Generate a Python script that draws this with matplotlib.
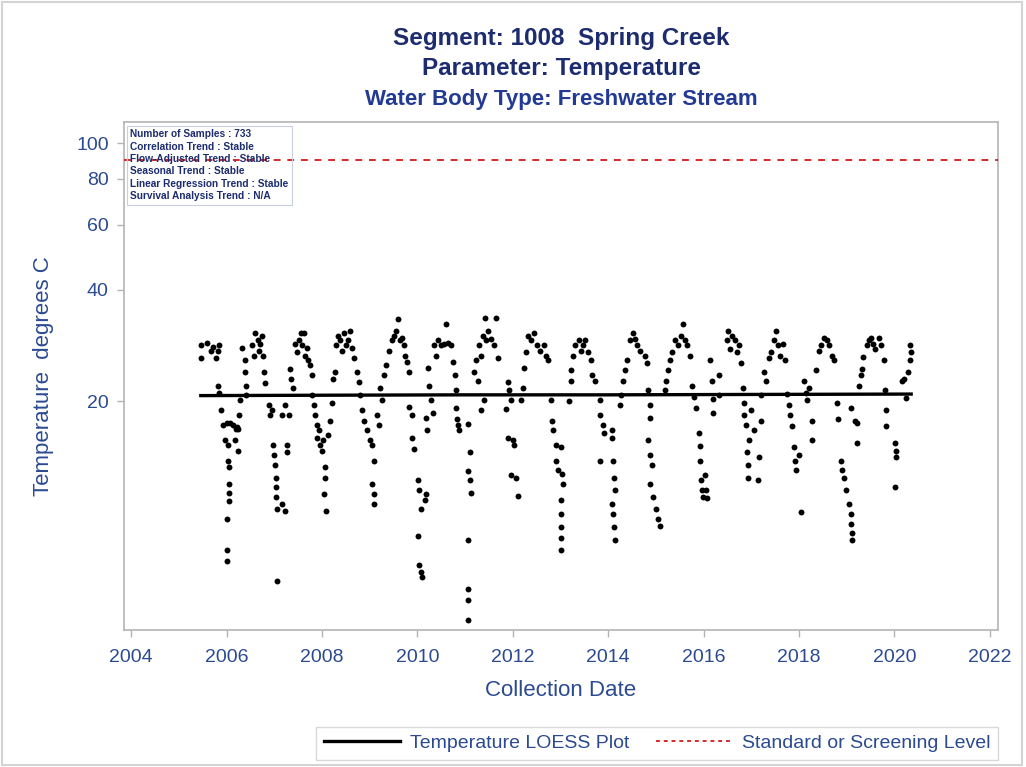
import numpy as np
import matplotlib.pyplot as plt
from matplotlib.lines import Line2D
from matplotlib.patches import Rectangle
from matplotlib.ticker import NullLocator, FixedFormatter

plt.rcParams["font.family"] = ["Liberation Sans", "DejaVu Sans"]

# ---------------------------------------------------------------
# sampled temperatures (decimal year, degrees C), read off the chart
# ---------------------------------------------------------------
dates_2005 = [2005.46, 2005.46, 2005.60, 2005.67, 2005.71, 2005.77, 2005.81, 2005.85,
              2005.83, 2005.85, 2005.88, 2005.92, 2005.96]
temps_2005 = [28.3, 26.1, 28.7, 27.4, 28.0, 26.1, 27.4, 28.3,
              22.0, 21.0, 18.9, 17.2, 15.7]

dates_2006 = [2006.00, 2006.02, 2006.04, 2006.06, 2006.06, 2006.06, 2006.06, 2006.00, 2006.00,
              2006.00, 2006.08, 2006.13, 2006.17, 2006.19, 2006.21, 2006.23, 2006.25, 2006.27,
              2006.29, 2006.33, 2006.38, 2006.38, 2006.40, 2006.40, 2006.54, 2006.58, 2006.60,
              2006.65, 2006.67, 2006.71, 2006.75, 2006.77, 2006.79, 2006.81, 2006.88, 2006.92,
              2006.96, 2006.98]
temps_2006 = [17.5, 15.2, 13.8, 13.3, 11.9, 11.3, 10.7, 9.6, 7.9,
              7.4, 17.4, 17.2, 15.7, 16.8, 17.0, 14.7, 16.8, 18.3,
              20.1, 27.9, 25.8, 24.0, 22.0, 20.8, 28.3, 26.5, 30.5,
              29.2, 27.4, 28.6, 30.1, 26.5, 24.0, 22.4, 19.5, 18.3,
              18.9, 15.2]

dates_2007 = [2007.00, 2007.02, 2007.04, 2007.04, 2007.04, 2007.06, 2007.06, 2007.17, 2007.23,
              2007.27, 2007.27, 2007.23, 2007.31, 2007.17, 2007.33, 2007.35, 2007.40, 2007.44,
              2007.48, 2007.52, 2007.56, 2007.58, 2007.63, 2007.65, 2007.69, 2007.71, 2007.75,
              2007.79, 2007.79, 2007.83, 2007.85, 2007.90, 2007.90, 2007.94, 2007.96]
temps_2007 = [14.3, 13.4, 12.4, 11.7, 11.0, 10.2, 6.5, 10.5, 10.1,
              15.2, 14.6, 19.5, 18.3, 18.3, 24.4, 23.0, 21.7, 28.6,
              27.1, 29.2, 30.5, 28.3, 30.5, 26.5, 27.9, 25.8, 25.0,
              23.5, 20.8, 19.5, 18.3, 17.2, 15.9, 16.7, 15.2]

dates_2008 = [2008.00, 2008.02, 2008.06, 2008.06, 2008.04, 2008.08, 2008.13, 2008.17, 2008.21,
              2008.23, 2008.27, 2008.29, 2008.33, 2008.38, 2008.42, 2008.46, 2008.50, 2008.54,
              2008.58, 2008.63, 2008.67, 2008.73, 2008.77, 2008.79, 2008.83, 2008.88, 2008.94]
temps_2008 = [14.7, 15.7, 13.3, 12.4, 11.2, 10.1, 16.2, 17.7, 19.8,
              23.0, 24.0, 28.3, 30.1, 29.2, 27.4, 30.5, 28.3, 29.2,
              31.0, 27.9, 26.1, 24.0, 22.5, 20.8, 18.9, 17.7, 16.7]

dates_2009 = [2009.00, 2009.04, 2009.08, 2009.04, 2009.08, 2009.10, 2009.15, 2009.19, 2009.21,
              2009.25, 2009.31, 2009.35, 2009.40, 2009.46, 2009.50, 2009.56, 2009.60, 2009.63,
              2009.67, 2009.71, 2009.75, 2009.79, 2009.83, 2009.83, 2009.88, 2009.88, 2009.92]
temps_2009 = [15.7, 15.2, 13.8, 11.9, 11.2, 10.5, 18.3, 17.2, 21.7,
              20.1, 23.5, 25.0, 27.4, 29.2, 30.1, 31.0, 33.4, 29.2,
              29.7, 28.3, 26.5, 25.5, 24.0, 19.3, 18.3, 15.9, 14.8]

dates_2010 = [2010.02, 2010.04, 2010.08, 2010.02, 2010.04, 2010.08, 2010.10, 2010.15, 2010.19,
              2010.19, 2010.21, 2010.23, 2010.25, 2010.29, 2010.33, 2010.35, 2010.40, 2010.44,
              2010.50, 2010.56, 2010.60, 2010.65, 2010.71, 2010.75, 2010.79, 2010.81, 2010.81,
              2010.83, 2010.85, 2010.88]
temps_2010 = [12.2, 11.5, 10.2, 8.6, 7.2, 6.9, 6.7, 10.8, 11.2,
              18.0, 16.7, 24.6, 22.0, 20.1, 18.6, 28.3, 26.5, 29.2,
              28.3, 28.6, 32.4, 28.8, 28.3, 25.5, 23.5, 21.4, 19.2,
              17.9, 17.2, 16.7]

dates_2011 = [2011.06, 2011.10, 2011.06, 2011.10, 2011.13, 2011.06, 2011.06, 2011.06, 2011.06,
              2011.19, 2011.23, 2011.27, 2011.29, 2011.33, 2011.38, 2011.42, 2011.44, 2011.48,
              2011.54, 2011.60, 2011.65, 2011.69, 2011.33, 2011.40, 2011.85, 2011.90, 2011.92,
              2011.96, 2011.90]
temps_2011 = [17.3, 14.6, 12.9, 12.2, 11.3, 8.4, 6.2, 5.8, 5.1,
              24.0, 25.8, 22.7, 28.3, 26.5, 30.1, 33.6, 29.2, 31.0,
              29.5, 28.3, 33.6, 26.1, 18.9, 20.1, 19.0, 22.5, 21.4,
              20.1, 15.9]

dates_2012 = [2012.00, 2012.02, 2011.96, 2012.06, 2012.10, 2012.17, 2012.21, 2012.23, 2012.27,
              2012.31, 2012.38, 2012.44, 2012.50, 2012.58, 2012.65, 2012.69, 2012.73, 2012.79,
              2012.83, 2012.85, 2012.90, 2012.90, 2012.94]
temps_2012 = [15.7, 15.2, 12.6, 12.4, 11.1, 20.1, 21.7, 24.6, 27.1,
              30.1, 29.2, 30.5, 28.3, 27.4, 28.3, 26.5, 25.8, 20.1,
              17.7, 16.7, 15.2, 13.8, 13.0]

dates_2013 = [2013.00, 2013.04, 2013.06, 2013.00, 2013.00, 2013.00, 2013.00, 2013.00, 2013.17,
              2013.21, 2013.23, 2013.27, 2013.31, 2013.38, 2013.42, 2013.48, 2013.52, 2013.58,
              2013.63, 2013.67, 2013.73, 2013.83, 2013.83, 2013.88, 2013.92, 2013.83]
temps_2013 = [15.0, 12.7, 11.9, 10.8, 9.9, 9.1, 8.5, 7.9, 20.0,
              22.7, 24.3, 26.5, 28.3, 29.2, 27.4, 28.3, 29.2, 27.1,
              25.8, 23.5, 22.7, 20.1, 18.3, 17.2, 16.4, 13.8]

dates_2014 = [2014.08, 2014.08, 2014.10, 2014.13, 2014.15, 2014.08, 2014.10, 2014.13, 2014.15,
              2014.25, 2014.27, 2014.31, 2014.35, 2014.40, 2014.46, 2014.52, 2014.56, 2014.60,
              2014.67, 2014.77, 2014.81, 2014.83, 2014.88, 2014.88, 2014.83, 2014.88, 2014.92,
              2014.88, 2014.94]
temps_2014 = [16.7, 15.9, 13.8, 12.4, 11.5, 10.5, 9.9, 9.1, 8.4,
              19.5, 20.8, 22.7, 24.3, 25.8, 29.2, 30.5, 29.5, 28.3,
              27.4, 26.5, 25.3, 21.4, 19.5, 18.0, 15.7, 14.3, 13.4,
              11.9, 11.0]

dates_2015 = [2015.00, 2015.04, 2015.08, 2015.19, 2015.21, 2015.25, 2015.29, 2015.33, 2015.40,
              2015.46, 2015.52, 2015.56, 2015.60, 2015.65, 2015.71, 2015.75, 2015.79, 2015.83,
              2015.90, 2015.92, 2015.92, 2015.94, 2015.96, 2015.98]
temps_2015 = [10.2, 9.6, 9.2, 21.4, 22.7, 24.3, 25.8, 27.1, 29.2,
              28.3, 30.1, 32.4, 29.2, 28.3, 26.5, 22.0, 20.5, 19.2,
              16.4, 15.1, 13.8, 12.2, 11.5, 11.0]

dates_2016 = [2016.04, 2016.02, 2016.08, 2016.13, 2016.17, 2016.19, 2016.19, 2016.33, 2016.33,
              2016.48, 2016.52, 2016.56, 2016.60, 2016.65, 2016.69, 2016.75, 2016.79, 2016.83,
              2016.85, 2016.85, 2016.88, 2016.90, 2016.92, 2016.92, 2016.96, 2017.00]
temps_2016 = [11.5, 12.6, 10.9, 25.8, 22.7, 20.3, 18.6, 23.5, 20.8,
              29.2, 31.0, 27.7, 30.1, 29.2, 27.1, 28.3, 25.3, 21.7,
              19.8, 18.3, 17.2, 14.6, 13.4, 12.4, 15.7, 18.9]

dates_2017 = [2017.06, 2017.13, 2017.17, 2017.21, 2017.21, 2017.27, 2017.31, 2017.38, 2017.42,
              2017.48, 2017.52, 2017.56, 2017.60, 2017.67, 2017.71, 2017.75, 2017.79, 2017.81,
              2017.85, 2017.90, 2017.92, 2017.94]
temps_2017 = [16.7, 12.2, 14.1, 17.7, 20.8, 24.0, 22.7, 26.1, 27.1,
              29.2, 31.0, 28.3, 26.5, 28.6, 25.8, 20.9, 19.5, 18.3,
              17.1, 15.0, 13.8, 13.0]

dates_2018 = [2018.00, 2018.04, 2018.10, 2018.15, 2018.17, 2018.21, 2018.27, 2018.27, 2018.35,
              2018.42, 2018.46, 2018.52, 2018.58, 2018.63, 2018.69, 2018.73, 2018.79, 2018.81,
              2018.88, 2018.90, 2018.94, 2018.98]
temps_2018 = [14.3, 10.0, 22.7, 21.1, 20.1, 21.7, 17.7, 15.7, 24.3,
              27.4, 28.3, 29.6, 29.2, 28.3, 26.5, 25.8, 19.8, 17.9,
              13.8, 13.0, 12.4, 11.5]

dates_2019 = [2019.04, 2019.08, 2019.08, 2019.10, 2019.10, 2019.08, 2019.17, 2019.21, 2019.21,
              2019.25, 2019.29, 2019.31, 2019.35, 2019.42, 2019.46, 2019.50, 2019.56, 2019.60,
              2019.67, 2019.71, 2019.77, 2019.81, 2019.83, 2019.83]
temps_2019 = [10.5, 9.9, 9.3, 8.8, 8.4, 19.2, 17.7, 17.4, 15.4,
              22.0, 23.5, 24.4, 26.3, 28.3, 29.2, 29.7, 28.6, 27.7,
              29.7, 28.3, 25.8, 21.4, 18.9, 17.1]

dates_2020 = [2020.02, 2020.04, 2020.04, 2020.02, 2020.15, 2020.19, 2020.25, 2020.29, 2020.33,
              2020.35, 2020.33]
temps_2020 = [15.4, 14.7, 14.1, 11.7, 22.7, 23.0, 20.4, 24.0, 25.8,
              27.1, 28.3]

# LOESS smooth and the screening level
loess_dates = [2005.46, 2008.0, 2011.0, 2014.0, 2017.0, 2020.35]
loess_temps = [20.7, 20.75, 20.8, 20.8, 20.85, 20.9]
standard_level = 90.2

stats_lines = [
    "Number of Samples : 733",
    "Correlation Trend : Stable",
    "Flow-Adjusted Trend : Stable",
    "Seasonal Trend : Stable",
    "Linear Regression Trend : Stable",
    "Survival Analysis Trend : N/A",
]

x_ticks = list(range(2004, 2023, 2))
y_ticks = [20, 40, 60, 80, 100]

dates = np.concatenate([dates_2005, dates_2006, dates_2007, dates_2008, dates_2009,
                        dates_2010, dates_2011, dates_2012, dates_2013, dates_2014,
                        dates_2015, dates_2016, dates_2017, dates_2018, dates_2019,
                        dates_2020])
temps = np.concatenate([temps_2005, temps_2006, temps_2007, temps_2008, temps_2009,
                        temps_2010, temps_2011, temps_2012, temps_2013, temps_2014,
                        temps_2015, temps_2016, temps_2017, temps_2018, temps_2019,
                        temps_2020])

NAVY = "#1d2c6e"
BLUE = "#2b4a90"
GRID = "#b4b4b4"

W, H = 1026, 767
fig = plt.figure(figsize=(W / 100, H / 100), dpi=100, facecolor="white")

# plot area in pixels: x 124..998, y 122..630
ax = fig.add_axes([124 / W, 1 - 630 / H, (998 - 124) / W, (630 - 122) / H])

ax.scatter(dates, temps, s=18, c="black", linewidths=0, zorder=3)
ax.plot(loess_dates, loess_temps, color="black", lw=2.4, zorder=4)
ax.axhline(standard_level, color="#d42a2a", lw=1.4, ls=(0, (3.5, 3.5)), zorder=5)

ax.set_yscale("log")
ax.set_ylim(4.8, 114)
ax.set_xlim(2003.85, 2022.17)

ax.set_yticks(y_ticks)
ax.yaxis.set_minor_locator(NullLocator())
ax.yaxis.set_major_formatter(FixedFormatter([str(v) for v in y_ticks]))
ax.set_xticks(x_ticks)

for spine in ax.spines.values():
    spine.set_color(GRID)
    spine.set_linewidth(1.2)
ax.tick_params(direction="out", length=5, width=1, color=GRID,
               labelcolor=BLUE, labelsize=14)
ax.tick_params(axis="x", pad=9)
ax.tick_params(axis="y", pad=6)

ax.set_xlabel("Collection Date", fontsize=16, color=BLUE, labelpad=10)
ax.set_ylabel("Temperature  degrees C", fontsize=16, color=BLUE, labelpad=16)

ax.text(0.007, 0.986, "\n".join(stats_lines), transform=ax.transAxes,
        fontsize=7.3, fontweight="bold", color=NAVY, va="top", ha="left",
        linespacing=1.3, zorder=6,
        bbox=dict(facecolor="none", edgecolor="#c8cde0", lw=0.8,
                  boxstyle="square,pad=0.35"))

# titles
cx = (124 + 998) / 2 / W
fig.text(cx, 1 - 38 / H, "Segment: 1008  Spring Creek", ha="center", va="center",
         fontsize=17.5, fontweight="bold", color=NAVY)
fig.text(cx, 1 - 69 / H, "Parameter: Temperature", ha="center", va="center",
         fontsize=17.5, fontweight="bold", color=NAVY)
fig.text(cx, 1 - 100 / H, "Water Body Type: Freshwater Stream", ha="center", va="center",
         fontsize=16, fontweight="bold", color="#233a94")

handles = [
    Line2D([], [], color="black", lw=2.4),
    Line2D([], [], color="#d42a2a", lw=1.4, ls=(0, (2, 2))),
]
leg = fig.legend(handles, ["Temperature LOESS Plot", "Standard or Screening Level"],
                 loc="lower right", bbox_to_anchor=(998 / W, 7 / H), ncol=2,
                 fontsize=14, frameon=True, fancybox=False, handlelength=3.9,
                 handletextpad=0.5, columnspacing=1.4, borderpad=0.4,
                 borderaxespad=0.0)
leg.get_frame().set_edgecolor("#d0d0d0")
leg.get_frame().set_linewidth(1.0)
for t in leg.get_texts():
    t.set_color(BLUE)

fig.patches.append(Rectangle((0.002, 0.002), 0.994, 0.996, transform=fig.transFigure,
                             fill=False, edgecolor="#d4d4d4", lw=1.5))

fig.savefig("out.png", dpi=100, facecolor="white")
